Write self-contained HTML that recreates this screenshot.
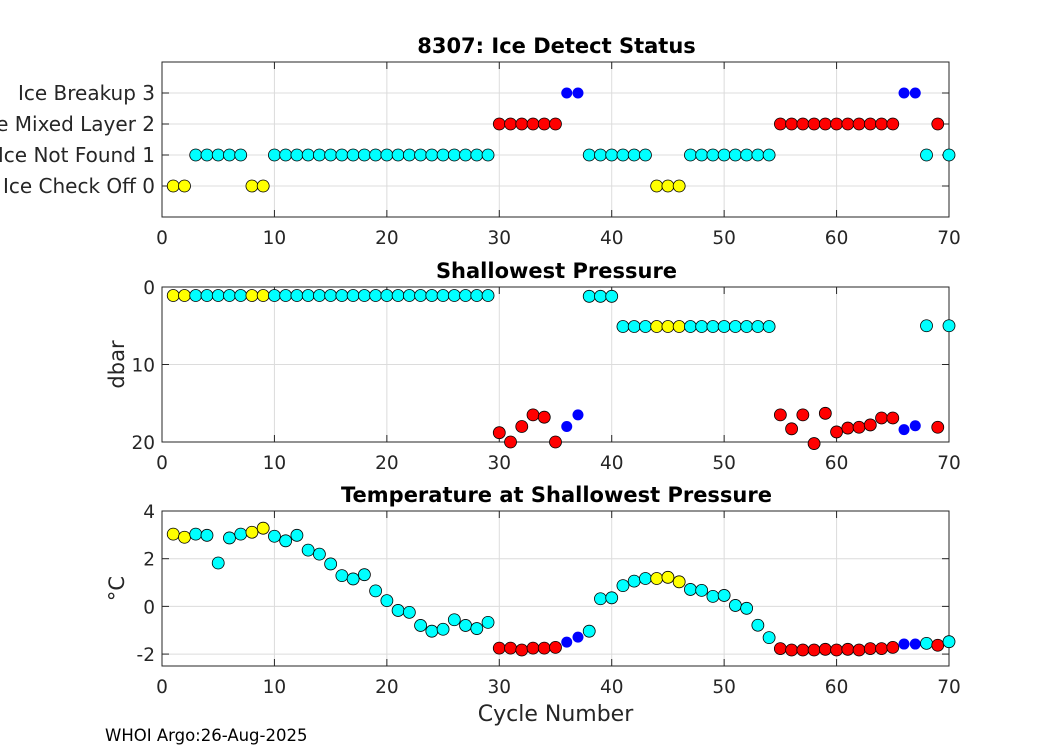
<!DOCTYPE html>
<html><head><meta charset="utf-8"><style>
html,body{margin:0;padding:0;background:#fff;}
svg{display:block;font-family:"DejaVu Sans","Liberation Sans",sans-serif;}
</style></head><body>
<svg id="chart" width="1050" height="750" viewBox="0 0 1050 750" xmlns="http://www.w3.org/2000/svg">
<rect width="1050" height="750" fill="#fff"/>
<text x="105" y="741" font-size="16.5" fill="#000">WHOI Argo:26-Aug-2025</text>
</svg>
<script>
const cycles = [];
for (let i = 1; i <= 70; i++) cycles.push(i);
const status = [0,0,1,1,1,1,1,0,0,1,1,1,1,1,1,1,1,1,1,1,1,1,1,1,1,1,1,1,1,2,2,2,2,2,2,3,3,1,1,1,1,1,1,0,0,0,1,1,1,1,1,1,1,1,2,2,2,2,2,2,2,2,2,2,2,3,3,1,2,1];
const pressure = [1.1,1.1,1.1,1.1,1.1,1.1,1.1,1.1,1.1,1.1,1.1,1.1,1.1,1.1,1.1,1.1,1.1,1.1,1.1,1.1,1.1,1.1,1.1,1.1,1.1,1.1,1.1,1.1,1.1,18.8,20,18,16.5,16.8,20,18,16.5,1.2,1.2,1.2,5.1,5.1,5.1,5.1,5.1,5.1,5.1,5.1,5.1,5.1,5.1,5.1,5.1,5.1,16.5,18.3,16.5,20.2,16.3,18.7,18.2,18.1,17.8,16.9,16.9,18.4,17.9,5,18.1,5];
const temperature = [3.03,2.9,3.03,2.98,1.82,2.87,3.03,3.11,3.28,2.94,2.75,2.98,2.36,2.19,1.78,1.29,1.15,1.33,0.65,0.24,-0.17,-0.25,-0.8,-1.04,-0.96,-0.56,-0.8,-0.93,-0.67,-1.75,-1.75,-1.83,-1.75,-1.75,-1.72,-1.5,-1.29,-1.04,0.32,0.36,0.87,1.06,1.17,1.17,1.22,1.03,0.71,0.67,0.42,0.46,0.04,-0.08,-0.79,-1.31,-1.77,-1.83,-1.83,-1.83,-1.8,-1.83,-1.8,-1.83,-1.77,-1.77,-1.72,-1.58,-1.58,-1.55,-1.63,-1.48];
const statusLabels = ["Ice Check Off 0","Ice Not Found 1","Ice Mixed Layer 2","Ice Breakup 3"];
const xTicks = [0,10,20,30,40,50,60,70];
const statusColors = ["#ffff00","#00ffff","#ff0000","#0000ff"];

const svg = document.getElementById('chart');
const NS = 'http://www.w3.org/2000/svg';
function mk(tag, attrs, parent){const e=document.createElementNS(NS,tag);for(const k in attrs)e.setAttribute(k,attrs[k]);(parent||svg).appendChild(e);return e;}
const X0=162, X1=949;
const xs = v => X0 + (v-0)/(70-0)*(X1-X0);

function panel(name, top, bottom, ymin, ymax, reversed, yticks, ylabels, yfont, values, title, ylabel){
  const g = mk('g',{});
  
  
  const ys = v => reversed ? top + (v-ymin)/(ymax-ymin)*(bottom-top) : bottom - (v-ymin)/(ymax-ymin)*(bottom-top);
  xTicks.forEach(t=>{ mk('line',{x1:xs(t),x2:xs(t),y1:top,y2:bottom,stroke:'#dcdcdc','stroke-width':1},g); });
  yticks.forEach(t=>{ mk('line',{x1:X0,x2:X1,y1:ys(t),y2:ys(t),stroke:'#dcdcdc','stroke-width':1},g); });
  xTicks.forEach(t=>{
    mk('line',{x1:xs(t),x2:xs(t),y1:bottom,y2:bottom-7,stroke:'#262626'},g);
    mk('line',{x1:xs(t),x2:xs(t),y1:top,y2:top+7,stroke:'#262626'},g);
    const tx = mk('text',{x:xs(t),y:bottom+27,'text-anchor':'middle','font-size':18.5,fill:'#262626'},g);
    tx.textContent = t;
    
    
  });
  yticks.forEach((t,i)=>{
    mk('line',{x1:X0,x2:X0+7,y1:ys(t),y2:ys(t),stroke:'#262626'},g);
    mk('line',{x1:X1,x2:X1-7,y1:ys(t),y2:ys(t),stroke:'#262626'},g);
    const tx = mk('text',{x:X0-7,y:ys(t)+7,'text-anchor':'end','font-size':yfont,fill:'#262626'},g);
    tx.textContent = ylabels[i];
    
    
  });
  mk('rect',{x:X0,y:top,width:X1-X0,height:bottom-top,fill:'none',stroke:'#262626','stroke-width':1},g);
  values.forEach((v,i)=>{
    const s = status[i];
    const c = mk('circle',{cx:xs(cycles[i]),cy:ys(v),r:s===3?5.5:6,fill:statusColors[s],stroke:s===3?'none':'#000','stroke-width':0.8},g);
    
    
  });
  const tt = mk('text',{x:(X0+X1)/2+1,y:top-9,'text-anchor':'middle','font-size':21,'font-weight':'bold',fill:'#000'},g);
  tt.textContent = title;
  
  
  if (ylabel){
    const yl = mk('text',{x:0,y:0,'text-anchor':'middle','font-size':21,fill:'#262626',transform:'translate(124,'+((top+bottom)/2)+') rotate(-90)'},g);
    yl.textContent = ylabel;
    
    
  }
}
panel('ice-detect-panel',62,217,-1,4,false,[0,1,2,3],statusLabels,20,status,'8307: Ice Detect Status',null);
panel('pressure-panel',287,442,0,20,true,[0,10,20],['0','10','20'],18.5,pressure,'Shallowest Pressure','dbar');
panel('temperature-panel',511,666,-2.5,4,false,[-2,0,2,4],['-2','0','2','4'],18.5,temperature,'Temperature at Shallowest Pressure','°C');
const xl = mk('text',{x:(X0+X1)/2,y:721,'text-anchor':'middle','font-size':22,fill:'#262626'});
xl.textContent = 'Cycle Number';


</script>
</body></html>
